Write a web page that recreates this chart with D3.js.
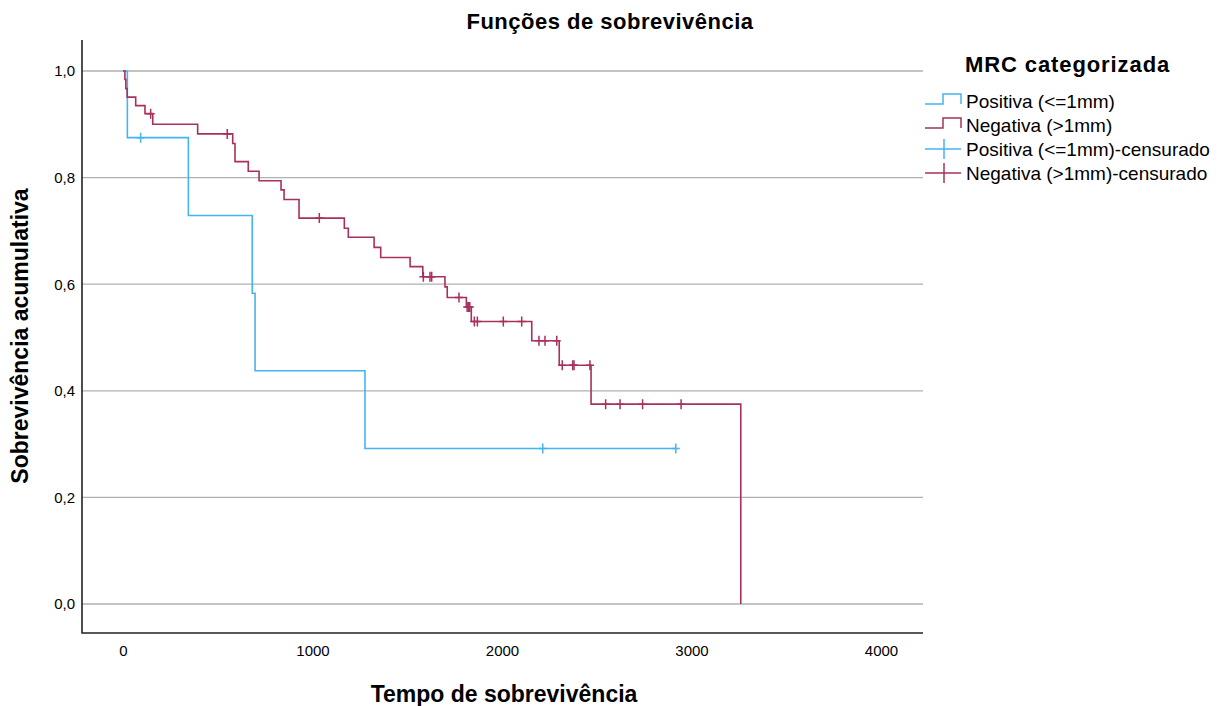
<!DOCTYPE html>
<html>
<head>
<meta charset="utf-8">
<script src="https://cdn.jsdelivr.net/npm/d3@7"></script>
<style>
  body { margin: 0; background: #fff; }
  text { font-family: "Liberation Sans", Arial, sans-serif; fill: #000; }
</style>
</head>
<body>
<div class="chart"></div>
<script>

// ---- data ----
// [time, survival] at each step, last point = end of follow up
const posSteps = [[0,1],[23,0.875],[345,0.729],[682,0.583],[697,0.4375],[1277,0.2917],[2917,0.2917]];
const posCensored = [[93,0.875],[2215,0.2917],[2917,0.2917]];

const negSteps = [[0,1],[10,0.984],[15,0.967],[22,0.951],[67,0.935],[116,0.920],[157,0.900],
    [394,0.882],[579,0.864],[591,0.830],[661,0.812],[718,0.794],[834,0.777],[850,0.759],
    [929,0.724],[1168,0.705],[1189,0.688],[1325,0.669],[1360,0.650],[1515,0.633],[1582,0.614],
    [1699,0.595],[1711,0.575],[1812,0.557],[1838,0.530],[2157,0.494],[2302,0.448],
    [2470,0.375],[3260,0]];
const negCensored = [[146,0.920],[550,0.882],[1036,0.724],[1585,0.614],[1620,0.614],[1629,0.614],
    [1773,0.575],[1816,0.557],[1824,0.557],[1830,0.557],[1854,0.530],[1870,0.530],[2007,0.530],
    [2104,0.530],[2195,0.494],[2227,0.494],[2289,0.494],[2318,0.448],[2373,0.448],[2380,0.448],
    [2464,0.448],[2547,0.375],[2623,0.375],[2742,0.375],[2945,0.375]];

const xTicks = [0, 1000, 2000, 3000, 4000];
const yTicks = [0, 0.2, 0.4, 0.6, 0.8, 1.0];
const legendLabels = ["Positiva (<=1mm)", "Negativa (>1mm)", "Positiva (<=1mm)-censurado", "Negativa (>1mm)-censurado"];

const blue = "#45b5f2", red = "#a8305f";

const width = 1218, height = 706;
const box = ({left: 82, right: 923, top: 40, bottom: 633});

const svg = d3.select(".chart").append("svg")
    .attr("width", width)
    .attr("height", height);

const xScale = d3.scaleLinear().domain([0, 4000]).range([123, 881]);
const yScale = d3.scaleLinear().domain([0, 1]).range([604, 71]);

// grid
svg.append("g")
    .selectAll("line")
    .data(yTicks)
    .join("line")
    .attr("x1", box.left)
    .attr("x2", box.right)
    .attr("y1", d => yScale(d))
    .attr("y2", d => yScale(d))
    .attr("stroke", "#b0b0b0")
    .attr("stroke-width", 1.3);

// axes
const xAxis = d3.axisBottom(xScale).tickValues(xTicks).tickSize(0).tickPadding(12)
    .tickFormat(d3.format("d"));
const yAxis = d3.axisLeft(yScale).tickValues(yTicks).tickSize(0).tickPadding(7)
    .tickFormat(d => d3.format(".1f")(d).replace(".", ","));

svg.append("g")
    .attr("transform", `translate(0, ${box.bottom})`)
    .call(xAxis)
    .call(g => g.select(".domain").remove())
    .selectAll("text")
    .attr("font-size", 15)
    .attr("fill", "#000");

svg.append("g")
    .attr("transform", `translate(${box.left}, 0)`)
    .call(yAxis)
    .call(g => g.select(".domain").remove())
    .selectAll("text")
    .attr("font-size", 15)
    .attr("fill", "#000");

svg.append("path")
    .attr("d", `M${box.left},${box.top}V${box.bottom}H${box.right}`)
    .attr("fill", "none")
    .attr("stroke", "#222")
    .attr("stroke-width", 1.6);

// survival curves
const line = d3.line()
    .x(d => xScale(d[0]))
    .y(d => yScale(d[1]))
    .curve(d3.curveStepAfter);

function curve(steps, censored, color) {
    svg.append("path")
        .datum(steps)
        .attr("d", line)
        .attr("fill", "none")
        .attr("stroke", color)
        .attr("stroke-width", 1.6);

    svg.append("g")
        .selectAll("path")
        .data(censored)
        .join("path")
        .attr("d", d => `M${xScale(d[0]) - 4},${yScale(d[1])}h8M${xScale(d[0])},${yScale(d[1]) - 5}v10`)
        .attr("stroke", color)
        .attr("stroke-width", 1.5);
}

curve(posSteps, posCensored, blue);
curve(negSteps, negCensored, red);

// titles
svg.append("text")
    .attr("x", 610)
    .attr("y", 29)
    .attr("text-anchor", "middle")
    .attr("font-size", 22)
    .attr("font-weight", "bold")
    .attr("letter-spacing", 0.5)
    .text("Funções de sobrevivência");

svg.append("text")
    .attr("x", 504)
    .attr("y", 702)
    .attr("text-anchor", "middle")
    .attr("font-size", 23)
    .attr("font-weight", "bold")
    .text("Tempo de sobrevivência");

svg.append("text")
    .attr("transform", "translate(28, 336) rotate(-90)")
    .attr("text-anchor", "middle")
    .attr("font-size", 23)
    .attr("font-weight", "bold")
    .text("Sobrevivência acumulativa");

// legend
const legend = svg.append("g").attr("transform", "translate(925, 0)");

legend.append("text")
    .attr("x", 40)
    .attr("y", 72)
    .attr("font-size", 22)
    .attr("font-weight", "bold")
    .attr("letter-spacing", 0.9)
    .text("MRC categorizada");

const rows = legend.selectAll(".row")
    .data(legendLabels)
    .join("g")
    .attr("class", "row")
    .attr("transform", (d, i) => `translate(0, ${101 + i * 24})`);

rows.append("path")
    .attr("d", (d, i) => i < 2 ? "M0,3H18V-7H36V3" : "M0,0H36M19,-10V10")
    .attr("fill", "none")
    .attr("stroke", (d, i) => i % 2 == 0 ? blue : red)
    .attr("stroke-width", 1.5);

rows.append("text")
    .attr("x", 41)
    .attr("y", 7)
    .attr("font-size", 19)
    .text(d => d);

</script>
</body>
</html>
